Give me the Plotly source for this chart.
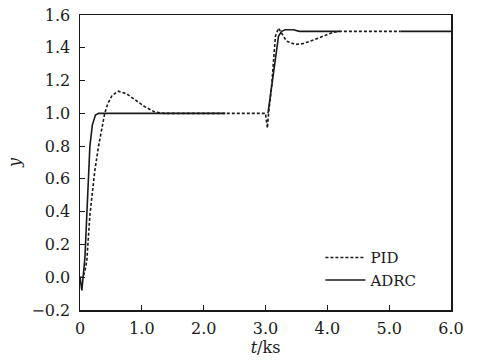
import plotly.graph_objects as go

# PID response (dotted)
t_pid = [0, 0.05, 0.08, 0.11, 0.16, 0.20, 0.24, 0.30, 0.36, 0.40, 0.45, 0.52, 0.62, 0.75,
         0.90, 1.05, 1.20, 1.35, 3.00, 3.03, 3.05, 3.10, 3.16, 3.21, 3.26, 3.34, 3.48, 3.60,
         3.72, 3.85, 3.99, 4.10, 4.20, 5.18]
y_pid = [0.0, 0.0, 0.04, 0.10, 0.38, 0.52, 0.65, 0.80, 0.93, 1.00, 1.06, 1.11, 1.135, 1.12,
         1.08, 1.04, 1.01, 1.00, 1.00, 0.91, 1.00, 1.17, 1.47, 1.52, 1.49, 1.44, 1.42, 1.425,
         1.44, 1.46, 1.48, 1.495, 1.50, 1.50]

# ADRC response (solid)
t_adrc = [0, 0.03, 0.05, 0.08, 0.11, 0.135, 0.16, 0.20, 0.25, 0.30, 2.35, 2.36,
          3.04, 3.12, 3.21, 3.26, 3.32, 3.45, 3.55, 4.20, 4.21, 5.18, 6.00]
y_adrc = [0.0, -0.08, 0.0, 0.12, 0.38, 0.63, 0.80, 0.93, 0.99, 1.00, 1.00, None,
          1.00, 1.22, 1.47, 1.50, 1.51, 1.51, 1.50, 1.50, None, 1.50, 1.50]

x_ticks = [0, 1, 2, 3, 4, 5, 6]
x_ticktext = ["0", "1.0", "2.0", "3.0", "4.0", "5.0", "6.0"]
y_ticks = [-0.2, 0.0, 0.2, 0.4, 0.6, 0.8, 1.0, 1.2, 1.4, 1.6]
y_ticktext = ["\u22120.2", "0.0", "0.2", "0.4", "0.6", "0.8", "1.0", "1.2", "1.4", "1.6"]

FONT = "DejaVu Serif"
INK = "#1a1a1a"

fig = go.Figure()
fig.add_trace(go.Scatter(x=t_pid, y=y_pid, mode="lines", name="PID",
                         line=dict(color=INK, width=1.6, dash="3px,2px")))
fig.add_trace(go.Scatter(x=t_adrc, y=y_adrc, mode="lines", name="ADRC",
                         connectgaps=False,
                         line=dict(color=INK, width=1.6)))

axis_common = dict(showgrid=False, zeroline=False, showline=True, linecolor=INK,
                   linewidth=1.5, mirror=True, ticks="inside", ticklen=5,
                   tickwidth=1.2, tickcolor=INK, automargin=False,
                   ticklabeloverflow="allow",
                   tickfont=dict(family=FONT, size=16, color=INK))

fig.update_xaxes(range=[0, 6], tickvals=x_ticks, ticktext=x_ticktext,
                 title=dict(text="<i>t</i>/ks", font=dict(family=FONT, size=16, color=INK),
                            standoff=5),
                 ticklabelstandoff=3, **axis_common)
fig.update_yaxes(range=[-0.2, 1.6], tickvals=y_ticks, ticktext=y_ticktext,
                 title=dict(text="<i>y</i>", font=dict(family=FONT, size=16, color=INK),
                            standoff=7),
                 ticklabelstandoff=5, **axis_common)

fig.update_layout(
    width=477, height=361,
    margin=dict(l=80, r=26, t=15, b=51, autoexpand=False),
    paper_bgcolor="white", plot_bgcolor="white",
    showlegend=True,
    hovermode=False,
    legend=dict(x=0.648, y=0.233, xanchor="left", yanchor="top",
                bgcolor="rgba(0,0,0,0)", borderwidth=0,
                font=dict(family=FONT, size=15, color=INK),
                tracegroupgap=0, itemwidth=40),
)

# remove the default 8px page margin so the figure sits at the window's corner
fig.write_html("out.html",
               config={"displayModeBar": False, "staticPlot": True},
               post_script="document.body.style.margin='0px';document.body.style.overflow='hidden';")
